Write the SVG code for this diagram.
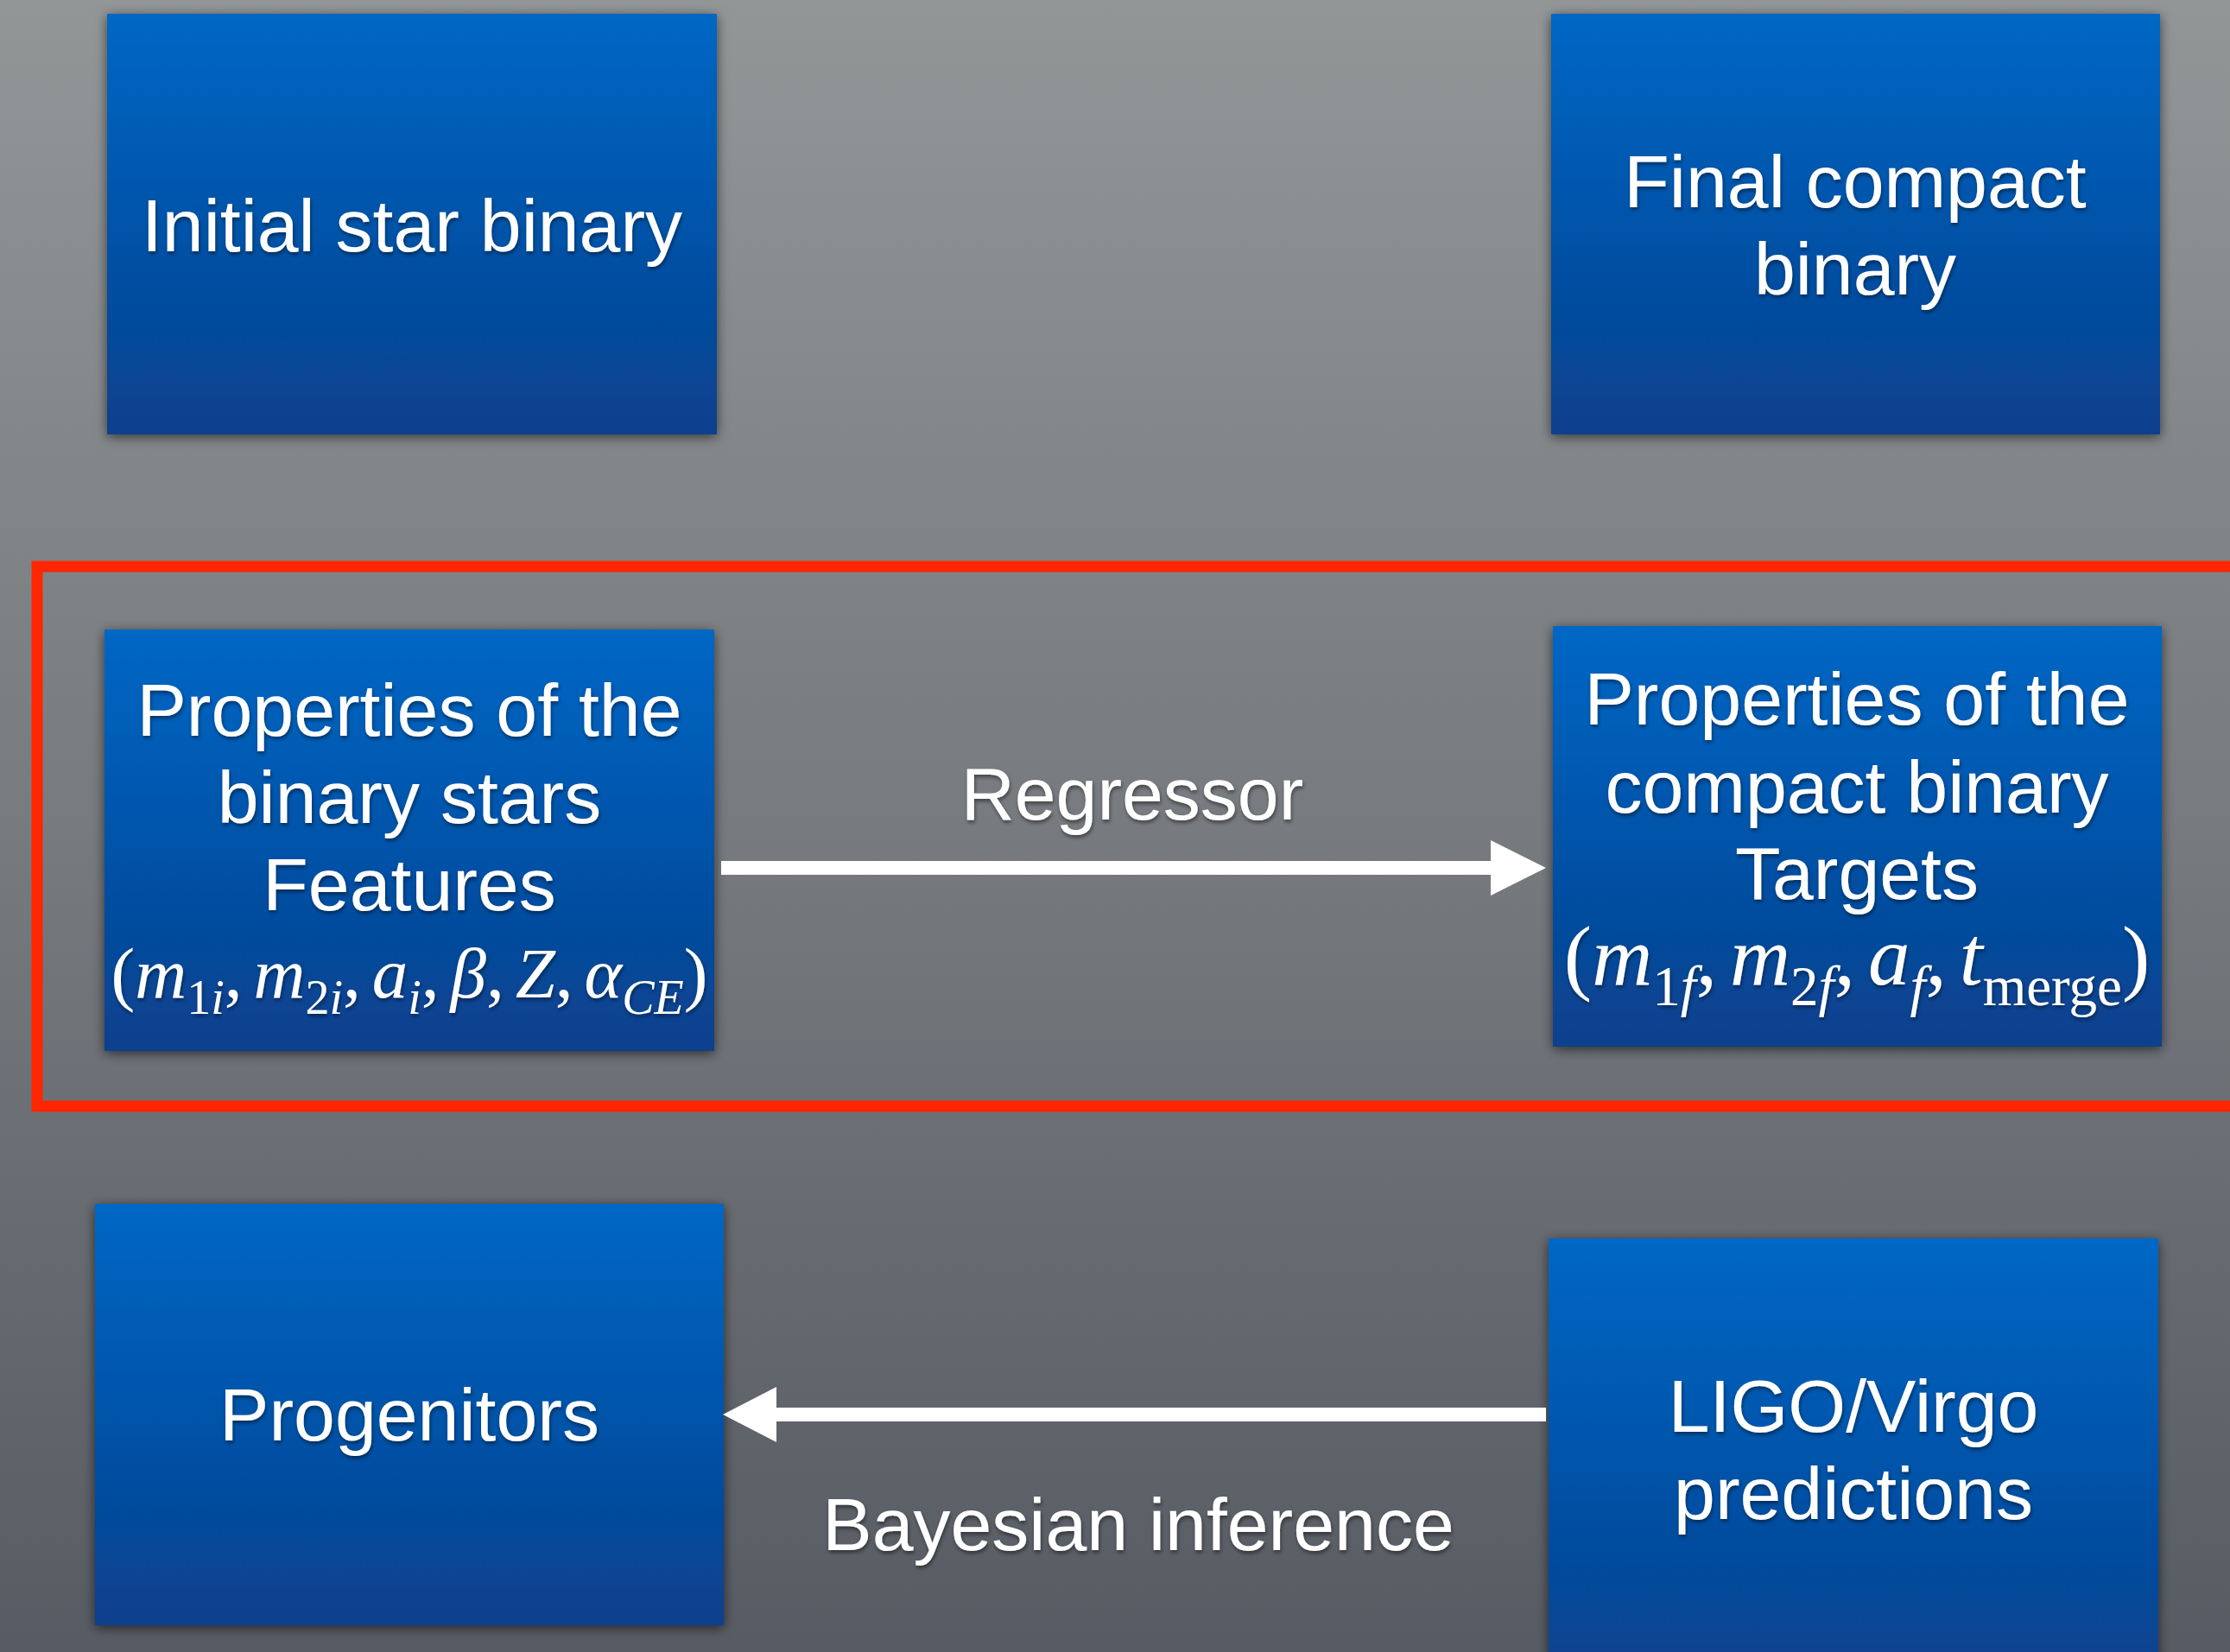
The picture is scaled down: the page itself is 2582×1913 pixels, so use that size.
<svg xmlns="http://www.w3.org/2000/svg" width="2582" height="1913" viewBox="0 0 2582 1913">
  <defs>
    <linearGradient id="bg" x1="0" y1="0" x2="0" y2="1">
      <stop offset="0" stop-color="#939697"/>
      <stop offset="0.5" stop-color="#777a7e"/>
      <stop offset="1" stop-color="#575b63"/>
    </linearGradient>
    <linearGradient id="boxfill" x1="0" y1="0" x2="0" y2="1">
      <stop offset="0" stop-color="#0067c5"/>
      <stop offset="1" stop-color="#08408d"/>
    </linearGradient>
    <filter id="boxshadow" x="-10%" y="-10%" width="120%" height="120%">
      <feDropShadow dx="0" dy="3" stdDeviation="7" flood-color="#000" flood-opacity="0.6"/>
    </filter>
    <filter id="txtshadow" x="-10%" y="-20%" width="120%" height="140%">
      <feDropShadow dx="1" dy="3" stdDeviation="2" flood-color="#000" flood-opacity="0.45"/>
    </filter>
  </defs>
  <style>
    .box { fill: url(#boxfill); filter: url(#boxshadow); }
    .lbl { font-family: "Liberation Sans", Arial, sans-serif; font-size: 86px; fill: #ffffff; text-anchor: middle; filter: url(#txtshadow); }
    .math { font-family: "Liberation Serif", "Times New Roman", serif; fill: #ffffff; text-anchor: middle; filter: url(#txtshadow); }
    .it { font-style: italic; }
    .conn { stroke: #ffffff; stroke-width: 16; fill: none; }
    .head { fill: #ffffff; }
  </style>

  <rect x="0" y="0" width="2582" height="1913" fill="url(#bg)"/>

  <rect id="highlight" x="43" y="656" width="2600" height="625" fill="none" stroke="#ff2600" stroke-width="13"/>

  <g id="node-initial">
    <rect class="box" x="124" y="16" width="706" height="487"/>
    <text class="lbl" x="477" y="291">Initial star binary</text>
  </g>

  <g id="node-final">
    <rect class="box" x="1796" y="16" width="705" height="487"/>
    <text class="lbl" x="2148" y="240">Final compact</text>
    <text class="lbl" x="2148" y="341">binary</text>
  </g>

  <g id="node-features">
    <rect class="box" x="121" y="729" width="706" height="488"/>
    <text class="lbl" x="474" y="852">Properties of the</text>
    <text class="lbl" x="474" y="953">binary stars</text>
    <text class="lbl" x="474" y="1054">Features</text>
    <text class="math" x="474" y="1155" font-size="83">(<tspan class="it">m</tspan><tspan font-size="56" dy="19">1<tspan class="it">i</tspan></tspan><tspan dy="-19">,</tspan><tspan class="it" dx="13">m</tspan><tspan font-size="56" dy="19">2<tspan class="it">i</tspan></tspan><tspan dy="-19">,</tspan><tspan class="it" dx="13">a</tspan><tspan class="it" font-size="56" dy="19">i</tspan><tspan dy="-19">,</tspan><tspan class="it" dx="13">β</tspan><tspan>,</tspan><tspan class="it" dx="13">Z</tspan><tspan>,</tspan><tspan class="it" dx="13">α</tspan><tspan class="it" font-size="56" dy="19">CE</tspan><tspan dy="-19">)</tspan></text>
  </g>

  <g id="node-targets">
    <rect class="box" x="1798" y="725" width="705" height="487"/>
    <text class="lbl" x="2150" y="839">Properties of the</text>
    <text class="lbl" x="2150" y="941">compact binary</text>
    <text class="lbl" x="2150" y="1041">Targets</text>
    <text class="math" x="2150" y="1140" font-size="97">(<tspan class="it">m</tspan><tspan font-size="65" dy="24">1<tspan class="it">f</tspan></tspan><tspan dy="-24">,</tspan><tspan class="it" dx="15">m</tspan><tspan font-size="65" dy="24">2<tspan class="it">f</tspan></tspan><tspan dy="-24">,</tspan><tspan class="it" dx="15">a</tspan><tspan class="it" font-size="65" dy="24">f</tspan><tspan dy="-24">,</tspan><tspan class="it" dx="15">t</tspan><tspan font-size="65" dy="24">merge</tspan><tspan dy="-24">)</tspan></text>
  </g>

  <g id="node-progenitors">
    <rect class="box" x="110" y="1394" width="728" height="488"/>
    <text class="lbl" x="474" y="1668">Progenitors</text>
  </g>

  <g id="node-ligo">
    <rect class="box" x="1793" y="1434" width="706" height="520"/>
    <text class="lbl" x="2146" y="1658">LIGO/Virgo</text>
    <text class="lbl" x="2146" y="1759">predictions</text>
  </g>

  <g id="connectors">
    <g id="edge-regressor">
      <line class="conn" x1="835" y1="1005" x2="1730" y2="1005"/>
      <polygon class="head" points="1726,973 1790,1005 1726,1037"/>
      <text class="lbl" x="1311" y="949">Regressor</text>
    </g>
    <g id="edge-bayesian">
      <line class="conn" x1="1790" y1="1638" x2="895" y2="1638"/>
      <polygon class="head" points="899,1606 837,1638 899,1670"/>
      <text class="lbl" x="1318" y="1795" font-size="87">Bayesian inference</text>
    </g>
  </g>
</svg>
